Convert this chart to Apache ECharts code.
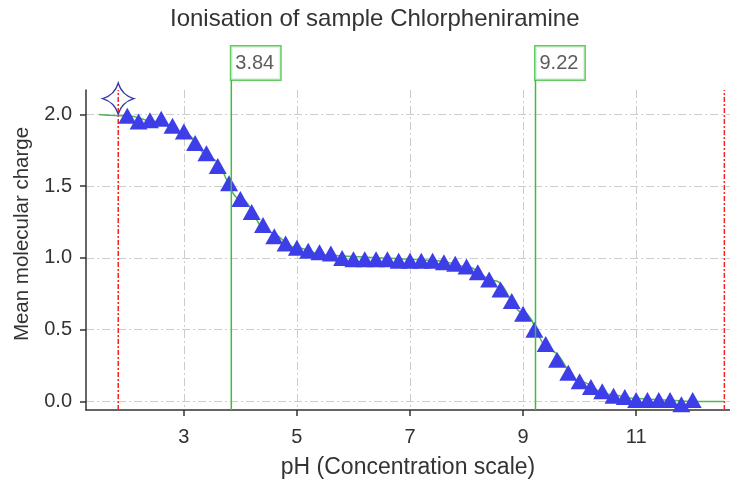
<!DOCTYPE html>
<html>
<head>
<meta charset="utf-8">
<script src="https://cdn.jsdelivr.net/npm/echarts@6/dist/echarts.min.js"></script>
<style>html,body{margin:0;padding:0;background:#fff;}#c{width:730px;height:486px;}</style>
</head>
<body>
<div id="c"></div>
<script>
// ---- data ----
const titleText = 'Ionisation of sample Chlorpheniramine';
const xName = 'pH (Concentration scale)';
const yName = 'Mean molecular charge';
const xTicks = [3, 5, 7, 9, 11];
const yTicks = [0, 0.5, 1.0, 1.5, 2.0];
const pHPoints = [2.0, 2.2, 2.4, 2.6, 2.8, 3.0, 3.2, 3.4, 3.6, 3.8,
  4.0, 4.2, 4.4, 4.6, 4.8, 5.0, 5.2, 5.4, 5.6, 5.8,
  6.0, 6.2, 6.4, 6.6, 6.8, 7.0, 7.2, 7.4, 7.6, 7.8,
  8.0, 8.2, 8.4, 8.6, 8.8, 9.0, 9.2, 9.4, 9.6, 9.8,
  10.0, 10.2, 10.4, 10.6, 10.8, 11.0, 11.2, 11.4, 11.6, 11.8, 12.0];
const chargePoints = [1.99, 1.95, 1.96, 1.97, 1.92, 1.88, 1.80, 1.73, 1.64, 1.52,
  1.41, 1.32, 1.23, 1.15, 1.10, 1.07, 1.05, 1.04, 1.03, 1.00,
  0.99, 0.99, 0.99, 0.99, 0.98, 0.98, 0.98, 0.98, 0.97, 0.96,
  0.94, 0.90, 0.85, 0.78, 0.70, 0.61, 0.50, 0.40, 0.29, 0.20,
  0.14, 0.10, 0.07, 0.04, 0.03, 0.01, 0.01, 0.01, 0.01, -0.02, 0.01];
const curvePH = [1.5, 2.0, 2.5, 3.0, 3.5, 4.0, 4.5, 5.0, 5.5, 6.0, 6.5, 7.0, 7.5,
  8.0, 8.5, 9.0, 9.5, 10.0, 10.5, 11.0, 11.5, 12.0, 12.56];
const curveCharge = [2.00, 1.99, 1.95, 1.87, 1.69, 1.41, 1.18, 1.07, 1.02, 1.01, 1.00, 0.99, 0.98,
  0.94, 0.84, 0.62, 0.35, 0.14, 0.05, 0.02, 0.01, 0.00, 0.00];
const pKaValues = [3.84, 9.22];
const rangeLimits = [1.84, 12.56];
const starPoint = [1.84, 2.11];
const xRange = [1.27, 12.66];
const yRange = [-0.06, 2.17];

const FONT = "'Liberation Sans', Arial, sans-serif";
const GREEN = '#3DBE3D';
const grid0 = {left: 86, width: 644, top: 90, bottom: 76};
const grid1 = {left: 86, width: 644, top: 80, bottom: 76};

const series = [];
// red limit lines
rangeLimits.forEach(function (p) {
  series.push({
    type: 'line', xAxisIndex: 0, yAxisIndex: 0, symbol: 'none', silent: true, z: 2,
    data: [[p, yRange[0]], [p, yRange[1]]],
    lineStyle: {color: '#FF2020', width: 1.5, type: [5, 2, 2, 2]}
  });
});
// theoretical curve
series.push({
  type: 'line', xAxisIndex: 0, yAxisIndex: 0, symbol: 'none', smooth: 0.4, smoothMonotone: 'x', z: 3,
  data: curvePH.map(function (x, i) { return [x, curveCharge[i]]; }),
  lineStyle: {color: '#4FB84F', width: 1.5}
});
// measured points
series.push({
  type: 'scatter', xAxisIndex: 0, yAxisIndex: 0, symbol: 'triangle', symbolSize: [18, 16], z: 4,
  data: pHPoints.map(function (x, i) { return [x, chargePoints[i]]; }),
  itemStyle: {color: '#3E3EE8', opacity: 1}
});
// star marker
series.push({
  type: 'scatter', xAxisIndex: 0, yAxisIndex: 0, z: 6,
  symbol: 'path://M0,-12 Q2.8,-2.8 12,0 Q2.8,2.8 0,12 Q-2.8,2.8 -12,0 Q-2.8,-2.8 0,-12 Z',
  symbolSize: 31,
  data: [starPoint],
  itemStyle: {color: 'rgba(255,255,255,0)', borderColor: '#3A3AA0', borderWidth: 1.5, opacity: 1}
});
// pKa lines with labels
pKaValues.forEach(function (p) {
  series.push({
    type: 'line', xAxisIndex: 1, yAxisIndex: 1, symbol: 'none', silent: true, z: 7,
    data: [[p, 0], [p, 1]],
    lineStyle: {color: GREEN, width: 1.5}
  });
  series.push({
    type: 'scatter', xAxisIndex: 1, yAxisIndex: 1, symbolSize: 1, z: 8, silent: true,
    itemStyle: {color: 'rgba(0,0,0,0)'},
    data: [[p, 1]],
    label: {
      show: true, position: 'top', distance: 0, align: 'left',
      formatter: p.toFixed(2),
      fontFamily: FONT, fontSize: 20, color: '#333',
      backgroundColor: '#fff', borderColor: GREEN, borderWidth: 1.5,
      padding: [7, 6, 6, 4]
    }
  });
});

const option = {
  animation: false,
  backgroundColor: '#fff',
  title: {
    text: titleText, left: 170, top: 7, padding: 0,
    textStyle: {fontFamily: FONT, fontSize: 24, fontWeight: 'normal', color: '#333'}
  },
  grid: [
    Object.assign({containLabel: false}, grid0),
    Object.assign({containLabel: false}, grid1)
  ],
  xAxis: [{
    type: 'value', gridIndex: 0, min: xRange[0], max: xRange[1],
    name: xName, nameLocation: 'middle', nameGap: 46,
    nameTextStyle: {fontFamily: FONT, fontSize: 23, color: '#333'},
    axisLine: {show: true, onZero: false, lineStyle: {color: '#333', width: 1.5}},
    axisTick: {show: true, length: 6, customValues: xTicks, lineStyle: {color: '#333', width: 1.5}},
    axisLabel: {customValues: xTicks, margin: 17, fontFamily: FONT, fontSize: 20, color: '#333'},
    splitLine: {show: true, lineStyle: {color: '#CCCCCC', width: 1, type: [8, 3, 2, 3]}}
  }, {
    type: 'value', gridIndex: 1, min: xRange[0], max: xRange[1], show: false
  }],
  yAxis: [{
    type: 'value', gridIndex: 0, min: yRange[0], max: yRange[1],
    name: yName, nameLocation: 'middle', nameGap: 52, nameRotate: 90,
    nameTextStyle: {fontFamily: FONT, fontSize: 20.5, color: '#333', padding: [0, 0, 0, 32]},
    axisLine: {show: true, onZero: false, lineStyle: {color: '#333', width: 1.5}},
    axisTick: {show: true, length: 6, customValues: yTicks, lineStyle: {color: '#333', width: 1.5}},
    axisLabel: {customValues: yTicks, margin: 14, fontFamily: FONT, fontSize: 20, color: '#333',
      formatter: function (v) { return v.toFixed(1); }},
    splitLine: {show: true, lineStyle: {color: '#CCCCCC', width: 1, type: [8, 3, 2, 3]}}
  }, {
    type: 'value', gridIndex: 1, min: 0, max: 1, show: false
  }],
  series: series
};
const chart = echarts.init(document.getElementById('c'), null, {renderer: 'canvas'});
chart.setOption(option);
</script>
</body>
</html>
